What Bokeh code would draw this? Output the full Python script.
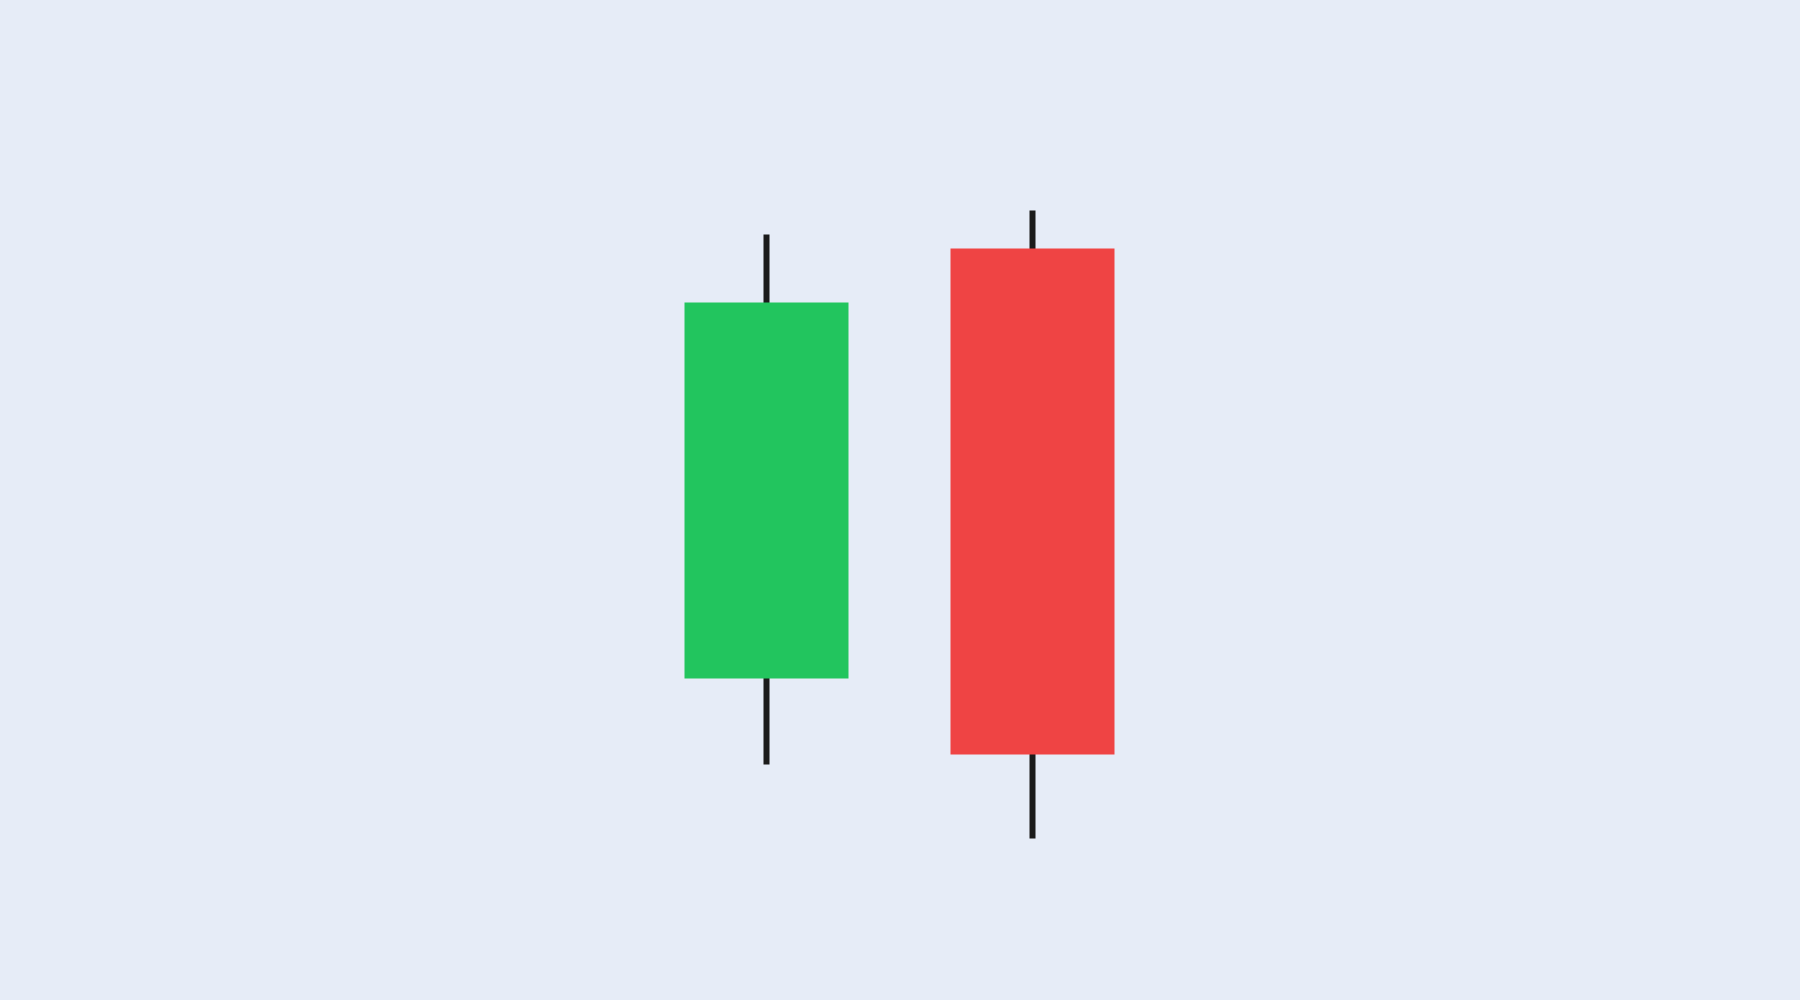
import re
from bokeh.plotting import figure
from bokeh.models import ColumnDataSource, Range1d
from bokeh.embed import file_html
from bokeh.resources import INLINE

# Data (two candles)
candles = ["A", "B"]
xpos = [0, 1]
open_ = [32.2, 75.2]
high = [76.6, 79.0]
low = [23.6, 16.2]
close = [69.8, 24.6]

UP = "#22C55E"
DOWN = "#EF4444"
WICK = "#1B1B1B"
BG = "#E6ECF7"

colors = [UP if c >= o else DOWN for o, c in zip(open_, close)]
top = [max(o, c) for o, c in zip(open_, close)]
bottom = [min(o, c) for o, c in zip(open_, close)]

src = ColumnDataSource(dict(x=xpos, open=open_, high=high, low=low, close=close,
                            top=top, bottom=bottom, color=colors, name=candles))

W, H = 1800, 1000
px_per_unit = 266.0
x0_px = 766.0
p = figure(width=W, height=H, output_backend="svg", toolbar_location=None,
           x_range=Range1d(-x0_px / px_per_unit, (W - x0_px) / px_per_unit),
           y_range=Range1d(0, 100),
           min_border=0, min_border_left=0, min_border_right=0,
           min_border_top=0, min_border_bottom=0)
p.axis.visible = False
p.grid.visible = False
p.outline_line_color = None
p.background_fill_color = BG
p.border_fill_color = BG

p.segment(x0="x", y0="high", x1="x", y1="low", source=src,
          line_color=WICK, line_width=6)
p.vbar(x="x", width=164 / px_per_unit, top="top", bottom="bottom", source=src,
       fill_color="color", line_color=None)

html = file_html(p, INLINE)
style = "<style>html,body{margin:0;padding:0;background:%s;overflow:hidden;}</style>" % BG
html = re.sub(r"</head>", style + "</head>", html, count=1)
open("out.html", "w").write(html)
